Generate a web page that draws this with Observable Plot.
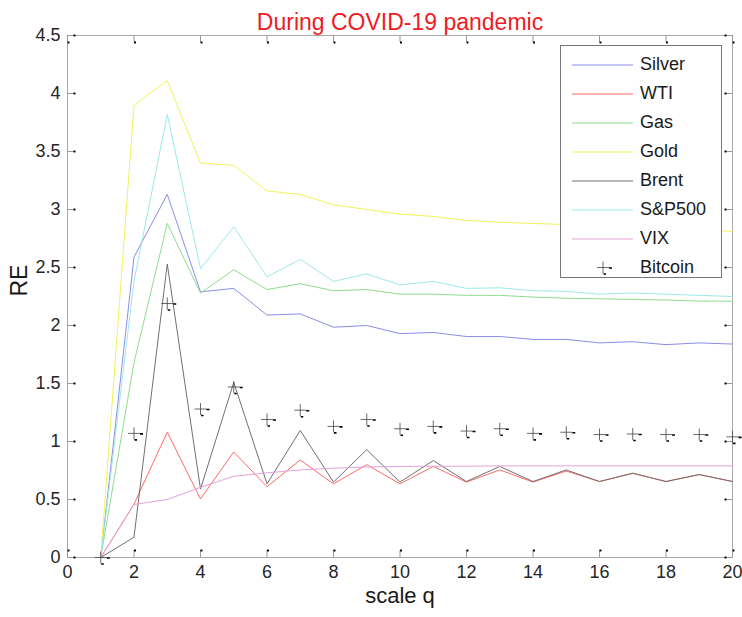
<!DOCTYPE html>
<html>
<head>
<meta charset="utf-8">
<script src="https://cdn.jsdelivr.net/npm/d3@7"></script>
<script src="https://cdn.jsdelivr.net/npm/@observablehq/plot@0.6"></script>
<style>
  body { margin: 0; background: #fff; font-family: "Liberation Sans", Arial, sans-serif; }
  #wrap { position: relative; width: 742px; height: 617px; }
  #legend { position: absolute; left: 560px; top: 45px; width: 162px; height: 233px; border: 1px solid #777; background: #fff; box-sizing: border-box; }
  .item { position: absolute; left: 0; height: 22px; width: 160px; }
  .item span { position: absolute; left: 79px; top: 0; font-size: 18px; line-height: 20px; color: #1a1a1a; }
  .mk { position: absolute; left: 0; top: 0; }
</style>
</head>
<body>
<div id="wrap"><div id="legend"></div></div>
<script>
// ---- data ----
const scaleQ = [1, 2, 3, 4, 5, 6, 7, 8, 9, 10, 11, 12, 13, 14, 15, 16, 17, 18, 19, 20];
const silver = [0, 2.59, 3.13, 2.29, 2.32, 2.09, 2.10, 1.985, 2.0, 1.93, 1.94, 1.905, 1.905, 1.88, 1.88, 1.85, 1.86, 1.835, 1.85, 1.84];
const wti    = [0, 0.46, 1.08, 0.505, 0.91, 0.61, 0.84, 0.635, 0.80, 0.635, 0.785, 0.65, 0.755, 0.65, 0.745, 0.655, 0.725, 0.655, 0.715, 0.655];
const gas    = [0, 1.68, 2.88, 2.28, 2.48, 2.31, 2.36, 2.30, 2.31, 2.27, 2.27, 2.26, 2.26, 2.245, 2.235, 2.23, 2.225, 2.22, 2.21, 2.21];
const gold   = [0, 3.90, 4.11, 3.40, 3.38, 3.16, 3.13, 3.04, 3.00, 2.96, 2.94, 2.905, 2.89, 2.88, 2.87, 2.86, 2.85, 2.84, 2.83, 2.81];
const brent  = [0, 0.175, 2.53, 0.59, 1.51, 0.635, 1.095, 0.65, 0.93, 0.65, 0.836, 0.655, 0.785, 0.655, 0.755, 0.655, 0.727, 0.655, 0.715, 0.655];
const sp500  = [0, 2.38, 3.82, 2.49, 2.85, 2.42, 2.57, 2.38, 2.445, 2.35, 2.38, 2.32, 2.325, 2.30, 2.295, 2.27, 2.28, 2.27, 2.26, 2.25];
const vix    = [0, 0.457, 0.50, 0.605, 0.70, 0.73, 0.755, 0.77, 0.78, 0.785, 0.787, 0.787, 0.79, 0.79, 0.79, 0.79, 0.79, 0.79, 0.79, 0.79];
const bitcoin = [0, 1.07, 2.19, 1.28, 1.47, 1.19, 1.27, 1.13, 1.19, 1.11, 1.13, 1.09, 1.11, 1.07, 1.08, 1.06, 1.065, 1.06, 1.06, 1.04];

const seriesNames  = ["Silver", "WTI", "Gas", "Gold", "Brent", "S&P500", "VIX"];
const seriesValues = [silver, wti, gas, gold, brent, sp500, vix];
const seriesColors = ["#8c8ce8", "#ff6a6a", "#8fdc8f", "#f2f25a", "#707070", "#9ee8e8", "#e3a3d8"];

const xTicks = [0, 2, 4, 6, 8, 10, 12, 14, 16, 18, 20];
const yTicks = [0, 0.5, 1, 1.5, 2, 2.5, 3, 3.5, 4, 4.5];
const titleText = "During COVID-19 pandemic";
const xLabel = "scale q";
const yLabel = "RE";

// ---- helpers ----
const rows = (vals) => scaleQ.map((q, i) => ({q, v: vals[i]}));
const plusSymbol = { draw(ctx, size) { const r = Math.sqrt(size / Math.PI); ctx.moveTo(-r, 0); ctx.lineTo(r, 0); ctx.moveTo(0, -r); ctx.lineTo(0, r); } };
const dashSymbol = { draw(ctx, size) { const r = Math.sqrt(size / Math.PI); ctx.moveTo(r, 0.5); ctx.lineTo(r + 3, 0.5); ctx.moveTo(0.5, r + 0.5); ctx.lineTo(3, r + 0.5); } };

const xTickLen = 0.21, yTickLen = 0.06;
const blob = {fill: "#000", symbol: "square", r: 1.1};

const chart = Plot.plot({
  width: 742, height: 617,
  marginLeft: 67, marginRight: 10, marginTop: 35, marginBottom: 60,
  x: {domain: [0, 20]},
  y: {domain: [0, 4.5]},
  style: {fontFamily: "'Liberation Sans', Arial, sans-serif", fontSize: "18px", color: "#262626", background: "#fff", overflow: "visible"},
  marks: [
    Plot.frame({stroke: "#a8a8a8"}),
    // inward ticks on all four sides
    Plot.ruleX(xTicks, {x: d => d, y1: 0, y2: yTickLen, stroke: "#999"}),
    Plot.ruleX(xTicks, {x: d => d, y1: 4.5, y2: 4.5 - yTickLen, stroke: "#999"}),
    Plot.ruleY(yTicks, {y: d => d, x1: 0, x2: xTickLen, stroke: "#999"}),
    Plot.ruleY(yTicks, {y: d => d, x1: 20, x2: 20 - xTickLen, stroke: "#999"}),
    Plot.dot(xTicks, {x: d => d, y: 0, dy: -7, dx: 1, ...blob}),
    Plot.dot(xTicks, {x: d => d, y: 4.5, dy: 7, dx: 1, ...blob}),
    Plot.dot(yTicks, {y: d => d, x: 0, dx: 7, ...blob}),
    Plot.dot(yTicks, {y: d => d, x: 20, dx: -7, ...blob}),
    ...seriesValues.map((vals, i) => Plot.line(rows(vals), {x: "q", y: "v", stroke: seriesColors[i], strokeWidth: 1})),
    Plot.dot(rows(bitcoin), {x: "q", y: "v", symbol: plusSymbol, r: 6, stroke: "#444", strokeWidth: 0.8, fill: "none"}),
    Plot.dot(rows(bitcoin), {x: "q", y: "v", symbol: dashSymbol, r: 6, stroke: "#000", strokeWidth: 1.6, fill: "none"}),
    Plot.axisX({ticks: xTicks, tickFormat: d => String(d), tickSize: 0, tickPadding: 8, label: null}),
    Plot.axisY({ticks: yTicks, tickFormat: d => String(d), tickSize: 0, tickPadding: 7, label: null}),
    Plot.text([xLabel], {frameAnchor: "bottom", dy: 45, fontSize: 22, fill: "#1a1a1a"}),
    Plot.text([yLabel], {frameAnchor: "left", dx: -48, rotate: -90, fontSize: 23, fill: "#1a1a1a"}),
    Plot.text([titleText], {frameAnchor: "top", dy: -22, fontSize: 23, fill: "#ee1c25"})
  ]
});
document.getElementById("wrap").prepend(chart);

// ---- legend (HTML overlay) ----
const legend = document.getElementById("legend");
const legendNames = [...seriesNames, "Bitcoin"];
legendNames.forEach((name, i) => {
  const item = document.createElement("div");
  item.className = "item";
  item.style.top = (8 + i * 29) + "px";
  let sample;
  if (i < seriesNames.length) {
    sample = `<svg class="mk" width="78" height="22"><line x1="11" x2="72" y1="11" y2="11" stroke="${seriesColors[i]}" stroke-width="1.2"/></svg>`;
  } else {
    sample = `<svg class="mk" width="78" height="22"><path d="M36,10.5H48M42,4.5V16.5" stroke="#444" stroke-width="0.8" fill="none"/><path d="M48,11H51M42.5,17H45" stroke="#000" stroke-width="1.6" fill="none"/></svg>`;
  }
  item.innerHTML = sample + `<span>${name.replace("&", "&amp;")}</span>`;
  legend.appendChild(item);
});
</script>
</body>
</html>
